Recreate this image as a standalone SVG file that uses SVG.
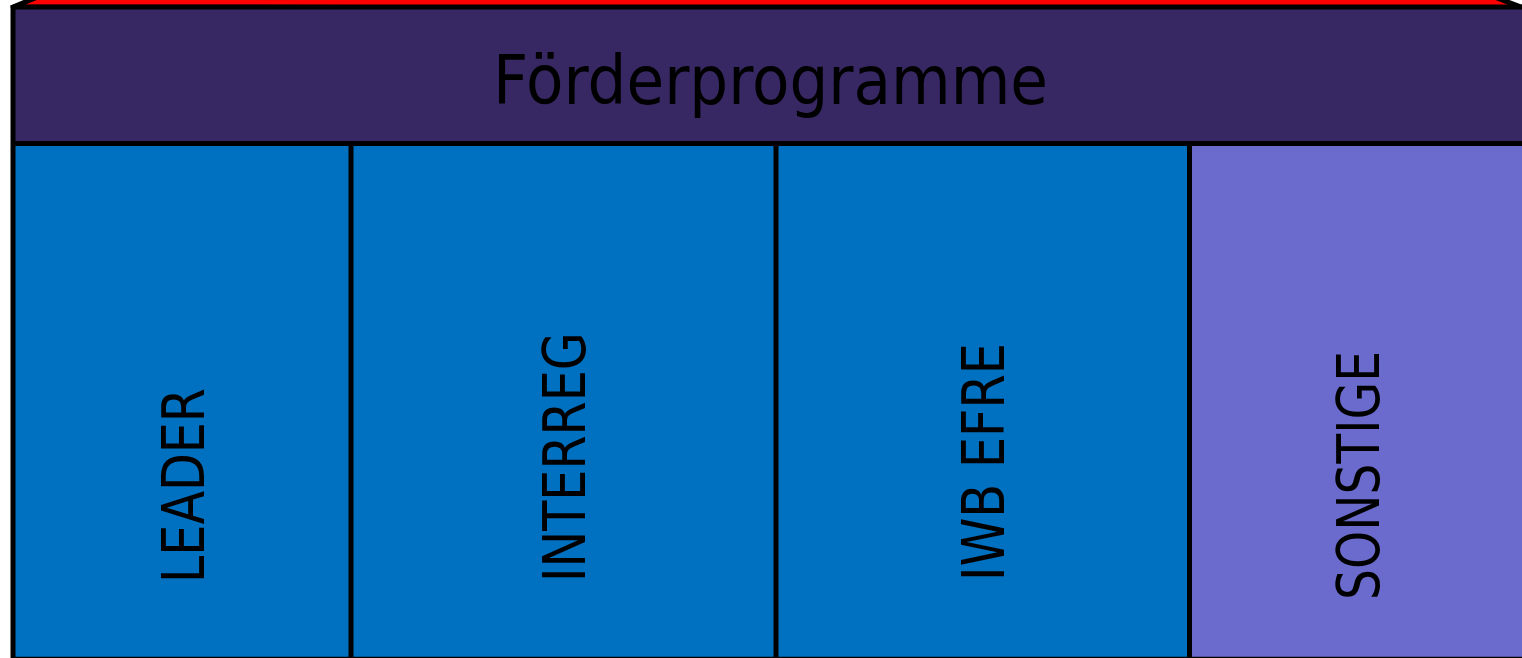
<svg xmlns="http://www.w3.org/2000/svg" width="1522" height="658" viewBox="0 0 1522 658">
<style>
.ln{stroke:#000;stroke-width:5;fill:none}
.lbl{font-family:"DejaVu Sans","Open Sans",sans-serif;fill:#000}
.v{font-size:58px}
</style>
<rect width="1522" height="658" fill="#fff"/>
<g id="top-face">
<polygon points="13,7 40,-4 1492,-4 1526,9" fill="#ff0000" stroke="#000" stroke-width="5" stroke-linejoin="round"/>
</g>
<g id="header">
<rect x="13" y="7" width="1515" height="136.5" fill="#372763"/>
<text class="lbl" x="770.5" y="104" font-size="67" text-anchor="middle" textLength="555" lengthAdjust="spacingAndGlyphs">Förderprogramme</text>
</g>
<g id="leader">
<rect x="13" y="143.5" width="338" height="520" fill="#0070c0"/>
<text class="lbl v" transform="translate(204,583) rotate(-90)" textLength="195" lengthAdjust="spacingAndGlyphs">LEADER</text>
</g>
<g id="interreg">
<rect x="351" y="143.5" width="425" height="520" fill="#0070c0"/>
<text class="lbl v" transform="translate(585,582) rotate(-90)" textLength="250" lengthAdjust="spacingAndGlyphs">INTERREG</text>
</g>
<g id="iwb-efre">
<rect x="776" y="143.5" width="413.5" height="520" fill="#0070c0"/>
<text class="lbl v" transform="translate(1003.5,581) rotate(-90)" textLength="238" lengthAdjust="spacingAndGlyphs">IWB EFRE</text>
</g>
<g id="sonstige">
<rect x="1189.5" y="143.5" width="340" height="520" fill="#6b6bcd"/>
<text class="lbl v" transform="translate(1379,600) rotate(-90)" textLength="249" lengthAdjust="spacingAndGlyphs">SONSTIGE</text>
</g>
<g id="connectors">
<line class="ln" x1="13" y1="7" x2="1526" y2="7"/>
<line class="ln" x1="13" y1="5" x2="13" y2="662"/>
<line class="ln" x1="11" y1="143.5" x2="1526" y2="143.5"/>
<line class="ln" x1="351" y1="143.5" x2="351" y2="662"/>
<line class="ln" x1="776" y1="143.5" x2="776" y2="662"/>
<line class="ln" x1="1189.5" y1="143.5" x2="1189.5" y2="662"/>
<line x1="13" y1="657.5" x2="1526" y2="657.5" stroke="#000" stroke-width="1.5"/>
</g>
</svg>
